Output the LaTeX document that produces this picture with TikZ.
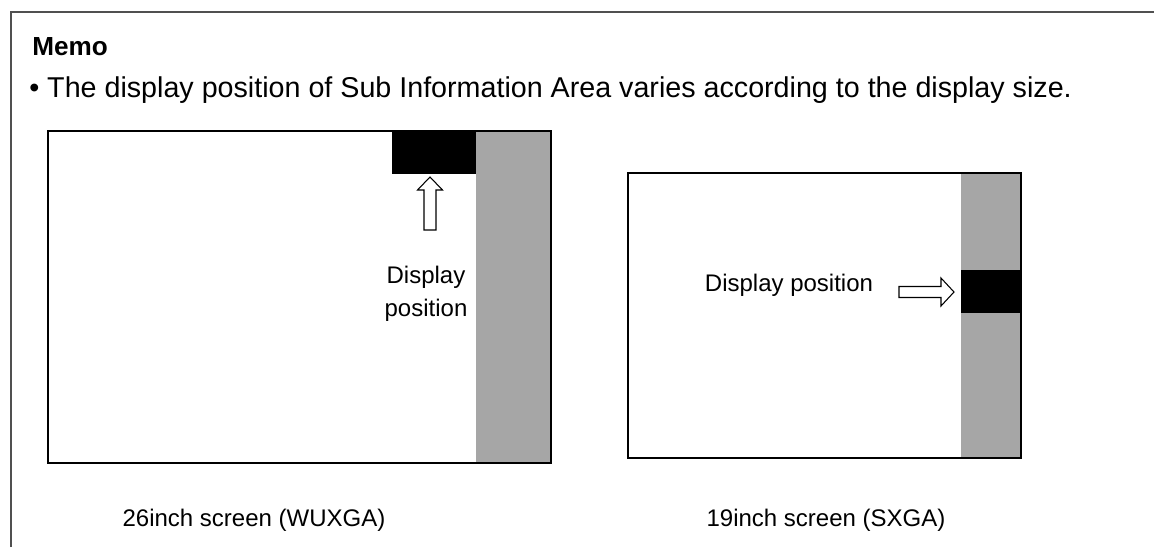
\documentclass[tikz,border=0pt]{standalone}
\usepackage{fontspec}
\setmainfont{Liberation Sans}
\definecolor{framegray}{HTML}{505050}
\definecolor{stripgray}{HTML}{A6A6A6}
\tikzset{
  screen/.style={draw=black, line width=1.6pt},
  strip/.style={fill=stripgray},
  sub/.style={fill=black},
  hollow/.style={draw=black, fill=white, line width=0.8pt, line join=miter},
  txt/.style={inner sep=0pt, font=\fontsize{18pt}{23pt}\selectfont},
}
\begin{document}
\begin{tikzpicture}[x=0.75pt, y=-0.75pt]
\useasboundingbox (0,0) rectangle (1154,547);
% memo frame
\draw[framegray, line width=1.5pt] (11,547) -- (11,12) -- (1154,12);
\node[txt, anchor=west, font=\bfseries\fontsize{19.6pt}{24pt}\selectfont] (memo) at (32,47) {Memo};
\node[txt, anchor=west, font=\fontsize{21.5pt}{26pt}\selectfont] (bullet) at (29,90) {\textbullet\ The display position of Sub Information Area varies according to the display size.};
% left screen
\fill[strip] (476,131) rectangle (551,463);
\fill[sub] (392,131) rectangle (476,174);
\draw[screen] (48,131) rectangle (551,463);
\coordinate (lbox) at (430,174);
\draw[hollow] (lbox) ++(0,3) -- ++(12.5,13) -- ++(-6.5,0) -- ++(0,40) -- ++(-12,0) -- ++(0,-40) -- ++(-6.5,0) -- cycle;
\node[txt, align=center] (ltext) at (426,294) {Display\\[2pt]position};
% right screen
\fill[strip] (961,173) rectangle (1021,458);
\fill[sub] (961,270) rectangle (1021,313);
\draw[screen] (628,173) rectangle (1021,458);
\coordinate (rbox) at (961,292);
\draw[hollow] (rbox) ++(-7,0) -- ++(-13,-14) -- ++(0,8.5) -- ++(-42,0) -- ++(0,11) -- ++(42,0) -- ++(0,8.5) -- cycle;
\node[txt] (rtext) at (789,285) {Display position};
% captions
\node[txt] (lcap) at (254,520) {26inch screen (WUXGA)};
\node[txt] (rcap) at (826,520) {19inch screen (SXGA)};
\end{tikzpicture}
\end{document}
